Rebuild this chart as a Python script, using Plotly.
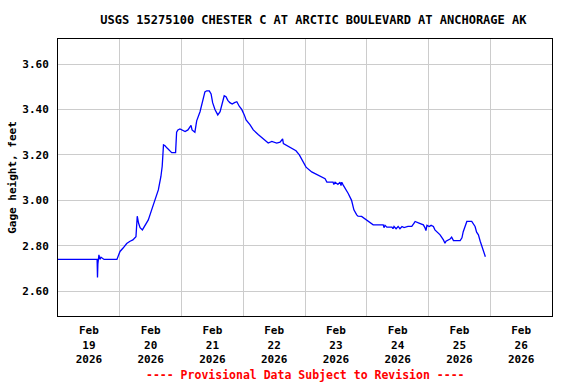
import plotly.graph_objects as go
import pandas as pd

# hours since 2026-02-19 00:00 (local) and gage height in feet
hours = [0, 15.2, 15.35, 15.5, 15.9, 16.3, 16.7, 17.9, 22.9, 24.1, 25.3, 26.7, 28.0, 29.1, 30.3,
         30.6, 30.8, 31.3, 31.9, 32.8, 33.8, 35.1, 36.4, 37.7, 39.0, 40.0, 40.5, 41.0, 41.6,
         42.4, 44.2, 45.7, 46.1, 46.6, 47.4, 49.4, 50.5, 51.7, 52.1, 53.2, 53.9, 55.2, 56.2,
         57.1, 57.8, 58.8, 59.5, 60.1, 61.0, 62.1, 63.0, 63.9, 64.6, 65.3, 66.0, 66.8, 67.7,
         68.6, 69.5, 70.5, 71.4, 72.4, 73.1, 74.6, 75.9, 77.8, 79.8, 81.7, 83.1, 85.0, 86.3,
         87.3, 87.6, 88.6, 90.8, 92.5, 93.8, 95.1, 96.4, 98.6, 101.6, 103.8, 104.5, 106.9,
         107.2, 107.7, 108.8, 109.6, 110.0, 110.3, 110.8, 111.9, 112.8, 114.1, 115.0, 116.1,
         116.6, 118.0, 120.0, 121.3, 122.5, 126.4, 126.7, 127.1, 127.8, 129.8, 130.2, 130.6,
         131.4, 132.2, 132.9, 133.7, 134.5, 136.0, 137.5, 138.4, 138.8, 140.3, 142.0, 142.6,
         143.0, 143.4, 144.3, 145.0, 145.9, 146.5, 147.3, 148.5, 149.8, 150.4, 150.8, 151.7,
         152.4, 153.0, 153.7, 156.3, 157.0, 157.5, 158.2, 158.9, 160.8, 161.3, 162.1, 162.7,
         163.4, 164.1, 164.8, 165.3, 166.1]
gage_ft = [2.74, 2.74, 2.66, 2.72, 2.76, 2.74, 2.75, 2.74, 2.74, 2.775, 2.79, 2.81, 2.82, 2.826, 2.84,
           2.89, 2.93, 2.90, 2.88, 2.87, 2.89, 2.914, 2.958, 3.00, 3.046, 3.105, 3.15, 3.244, 3.24,
           3.23, 3.21, 3.21, 3.30, 3.31, 3.314, 3.303, 3.31, 3.33, 3.31, 3.30, 3.35, 3.39, 3.44,
           3.477, 3.482, 3.482, 3.468, 3.43, 3.40, 3.376, 3.39, 3.43, 3.46, 3.456, 3.44, 3.43, 3.424,
           3.43, 3.434, 3.413, 3.40, 3.376, 3.354, 3.333, 3.31, 3.29, 3.27, 3.252, 3.259, 3.252, 3.256,
           3.27, 3.25, 3.243, 3.23, 3.218, 3.20, 3.17, 3.146, 3.125, 3.108, 3.095, 3.08, 3.08,
           3.07, 3.08, 3.07, 3.08, 3.065, 3.08, 3.068, 3.05, 3.03, 3.00, 2.958, 2.936,
           2.93, 2.929, 2.914, 2.902, 2.892, 2.892, 2.88, 2.89, 2.882, 2.882, 2.875, 2.885,
           2.875, 2.885, 2.875, 2.885, 2.88, 2.885, 2.885, 2.90, 2.907, 2.90, 2.892, 2.88,
           2.867, 2.89, 2.885, 2.89, 2.885, 2.87, 2.86, 2.848, 2.826, 2.811, 2.82, 2.826,
           2.83, 2.838, 2.823, 2.823, 2.835, 2.862, 2.888, 2.907, 2.907, 2.90, 2.885, 2.86,
           2.848, 2.82, 2.796, 2.78, 2.752]

day_labels = ["Feb<br>19<br>2026", "Feb<br>20<br>2026", "Feb<br>21<br>2026", "Feb<br>22<br>2026",
              "Feb<br>23<br>2026", "Feb<br>24<br>2026", "Feb<br>25<br>2026", "Feb<br>26<br>2026"]
day_starts = pd.date_range("2026-02-19", "2026-02-27", freq="D")
y_ticks = [2.60, 2.80, 3.00, 3.20, 3.40, 3.60]

start = pd.Timestamp("2026-02-19 00:00")
times = start + pd.to_timedelta(hours, unit="h")
label_pos = day_starts[:-1] + pd.Timedelta(hours=12)

FONT = "DejaVu Sans Mono"

fig = go.Figure()
fig.add_trace(go.Scatter(x=times, y=gage_ft, mode="lines",
                         line=dict(color="#0000FF", width=1.3), showlegend=False))

fig.update_layout(
    width=576, height=384,
    margin=dict(l=58, r=24, t=39, b=68, autoexpand=False),
    paper_bgcolor="white", plot_bgcolor="white",
    font=dict(family=FONT, size=11, color="black", weight="bold"),
    title=dict(text="USGS 15275100 CHESTER C AT ARCTIC BOULEVARD AT ANCHORAGE AK",
               x=0.544, xanchor="center", y=1 - 20 / 384, yanchor="middle",
               font=dict(family=FONT, size=12, color="black", weight="bold")),
    xaxis=dict(range=[day_starts[0], day_starts[-1]], automargin=False,
               tickvals=list(label_pos), ticktext=day_labels, ticks="",
               showgrid=False, zeroline=False,
               showline=True, linecolor="black", linewidth=1, mirror=True,
               tickfont=dict(family=FONT, size=11, weight="bold"),
               ticklabelstandoff=4,
               minor=dict(tickvals=list(day_starts), showgrid=True,
                          gridcolor="#cccccc", gridwidth=1, ticks="")),
    yaxis=dict(range=[2.491, 3.710], tickvals=y_ticks, automargin=False,
               ticktext=[f"{v:.2f}" for v in y_ticks], ticks="",
               showgrid=True, gridcolor="#cccccc", gridwidth=1, zeroline=False,
               showline=True, linecolor="black", linewidth=1, mirror=True,
               tickfont=dict(family=FONT, size=11, weight="bold"),
               ticklabelstandoff=6,
               title=dict(text="Gage height, feet", standoff=3,
                          font=dict(family=FONT, size=11, weight="bold"))),
)

fig.add_annotation(text="---- Provisional Data Subject to Revision ----",
                   xref="paper", yref="paper", x=0.5, y=-(375 - 316) / 277,
                   xanchor="center", yanchor="middle", showarrow=False,
                   font=dict(family=FONT, size=11.5, color="red", weight="bold"))

fig.write_html("out.html", config={"displayModeBar": False},
               post_script="document.body.style.margin='0';document.body.style.overflow='hidden';")
